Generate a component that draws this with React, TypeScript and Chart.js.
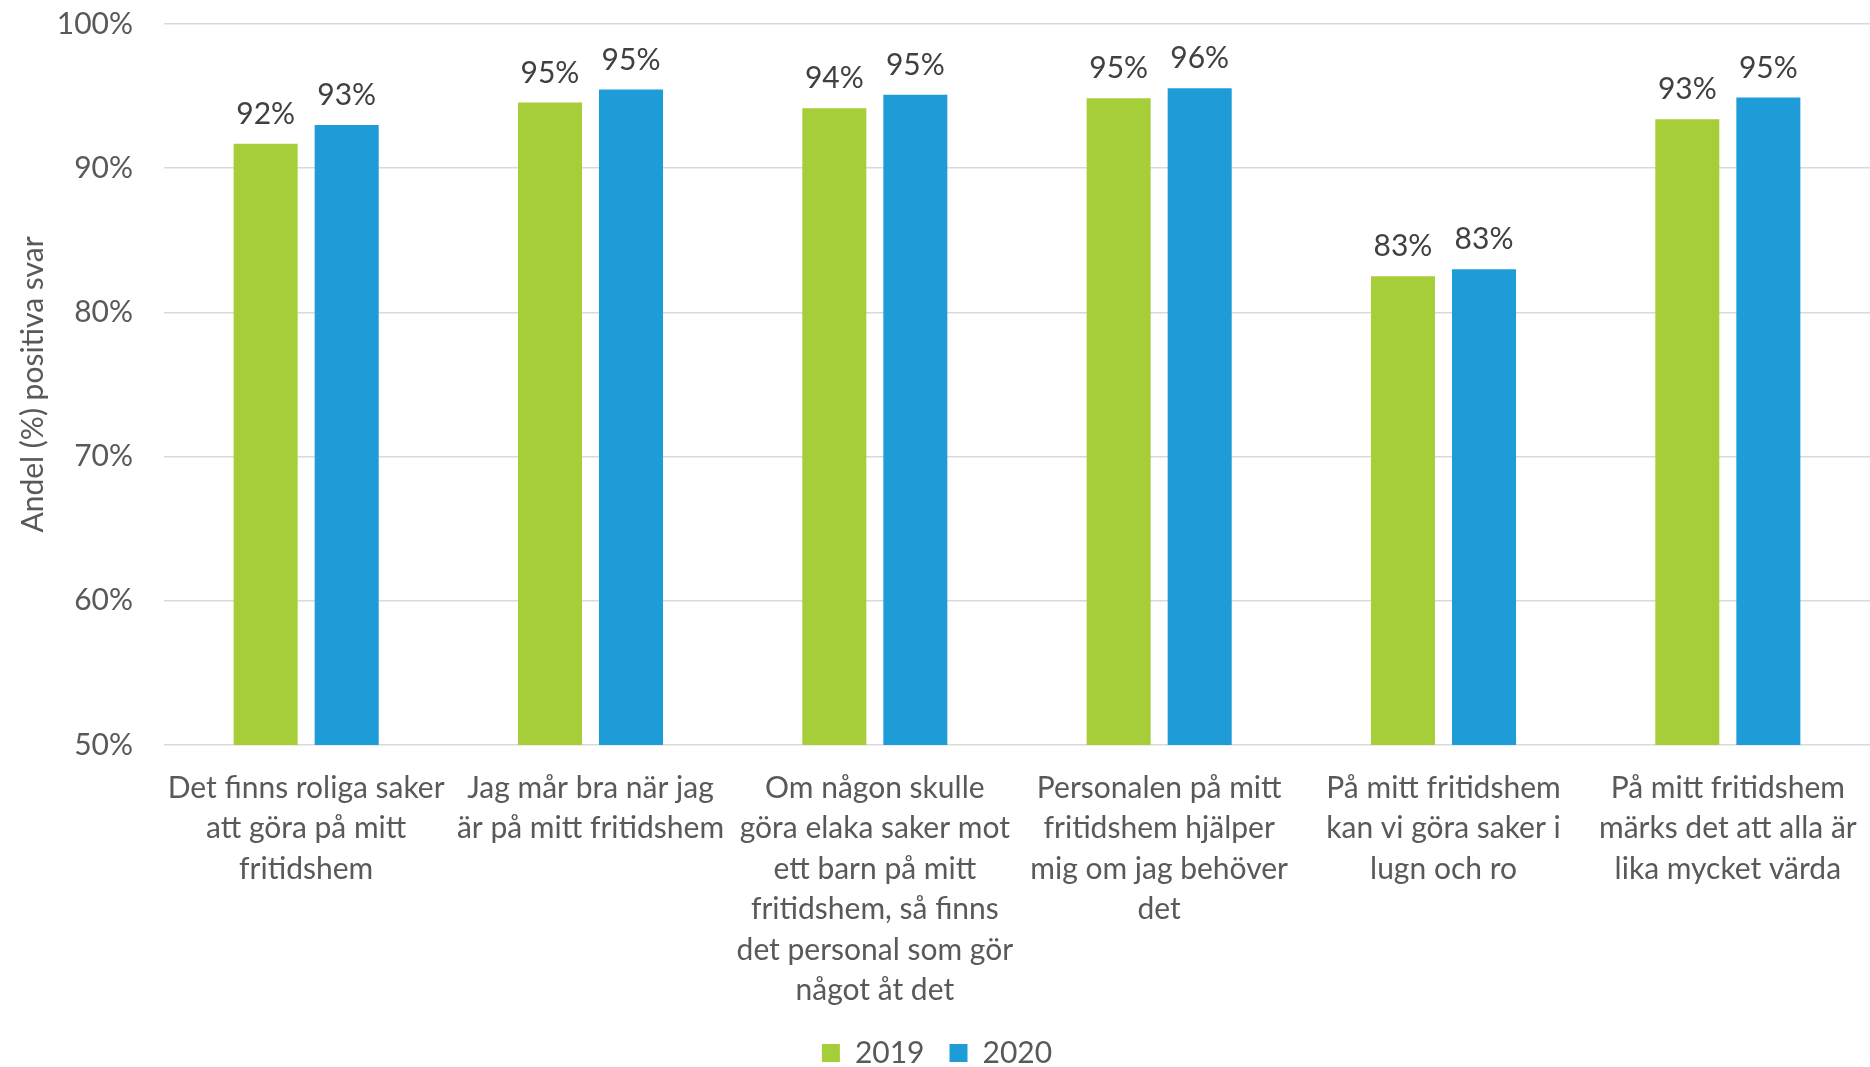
import React, { useEffect, useRef } from "react";
import { Chart, registerables } from "chart.js";

Chart.register(...registerables);

// ---- data ----
const categories: string[][] = [
  ["Det finns roliga saker", "att göra på mitt", "fritidshem"],
  ["Jag mår bra när jag", "är på mitt fritidshem"],
  ["Om någon skulle", "göra elaka saker mot", "ett barn på mitt", "fritidshem, så finns", "det personal som gör", "något åt det"],
  ["Personalen på mitt", "fritidshem hjälper", "mig om jag behöver", "det"],
  ["På mitt fritidshem", "kan vi göra saker i", "lugn och ro"],
  ["På mitt fritidshem", "märks det att alla är", "lika mycket värda"],
];
const values2019: number[] = [91.7, 94.55, 94.15, 94.85, 82.5, 93.4];
const values2020: number[] = [93.0, 95.45, 95.1, 95.55, 83.0, 94.9];
const seriesNames: string[] = ["2019", "2020"];
const yMin = 50;
const yMax = 100;
const yStep = 10;
const yTitle = "Andel (%) positiva svar";

const GREEN = "#A6CE39";
const BLUE = "#1E9CD8";
const FONT = "Lato";

const valueLabels = {
  id: "valueLabels",
  afterDatasetsDraw(chart: any) {
    const ctx = chart.ctx;
    ctx.save();
    ctx.font = `30px ${FONT}`;
    ctx.fillStyle = "#404040";
    ctx.textAlign = "center";
    ctx.textBaseline = "alphabetic";
    chart.data.datasets.forEach((ds: any, i: number) => {
      const meta = chart.getDatasetMeta(i);
      meta.data.forEach((el: any, j: number) => {
        ctx.fillText(Math.round(ds.data[j]) + "%", el.x, el.y - 20);
      });
    });
    ctx.restore();
  },
};

export default function App() {
  const ref = useRef<HTMLCanvasElement | null>(null);

  useEffect(() => {
    if (!ref.current) return;
    const chart = new Chart(ref.current, {
      type: "bar",
      data: {
        labels: categories,
        datasets: [
          { label: seriesNames[0], data: values2019, backgroundColor: GREEN, categoryPercentage: 0.57, barPercentage: 0.79 },
          { label: seriesNames[1], data: values2020, backgroundColor: BLUE, categoryPercentage: 0.57, barPercentage: 0.79 },
        ],
      },
      options: {
        responsive: false,
        animation: false,
        layout: { padding: { top: 24, right: -4, left: 0, bottom: -11 } },
        plugins: {
          tooltip: { enabled: false },
          legend: {
            position: "bottom",
            labels: {
              boxWidth: 18,
              boxHeight: 18,
              padding: 25,
              color: "#595959",
              font: { family: FONT, size: 30 },
            },
          },
        },
        scales: {
          x: {
            grid: { display: false },
            border: { display: false },
            ticks: {
              autoSkip: false,
              maxRotation: 0,
              minRotation: 0,
              padding: 15,
              color: "#595959",
              font: { family: FONT, size: 30, lineHeight: 1.35 },
            },
            afterFit(scale: any) {
              scale.height = 268;
              scale.paddingLeft = 0;
              scale.paddingRight = 0;
            },
          },
          y: {
            min: yMin,
            max: yMax,
            grid: { color: "#D9D9D9", lineWidth: 1.5, drawTicks: false },
            border: { display: false },
            ticks: {
              stepSize: yStep,
              padding: 31,
              color: "#595959",
              font: { family: FONT, size: 30 },
              callback: (v: any) => v + "%",
            },
            title: {
              display: true,
              text: yTitle,
              color: "#595959",
              font: { family: FONT, size: 30 },
              padding: { top: 15, bottom: 0 },
            },
            afterFit(scale: any) {
              scale.width = 164;
              scale.paddingTop = 0;
              scale.paddingBottom = 0;
            },
          },
        },
      },
      plugins: [valueLabels],
    });
    return () => chart.destroy();
  }, []);

  return (
    <div style={{ position: "fixed", left: 0, top: 0, width: 1870, height: 1067, background: "#fff" }}>
      <canvas ref={ref} width={1870} height={1067} style={{ display: "block" }} />
    </div>
  );
}
